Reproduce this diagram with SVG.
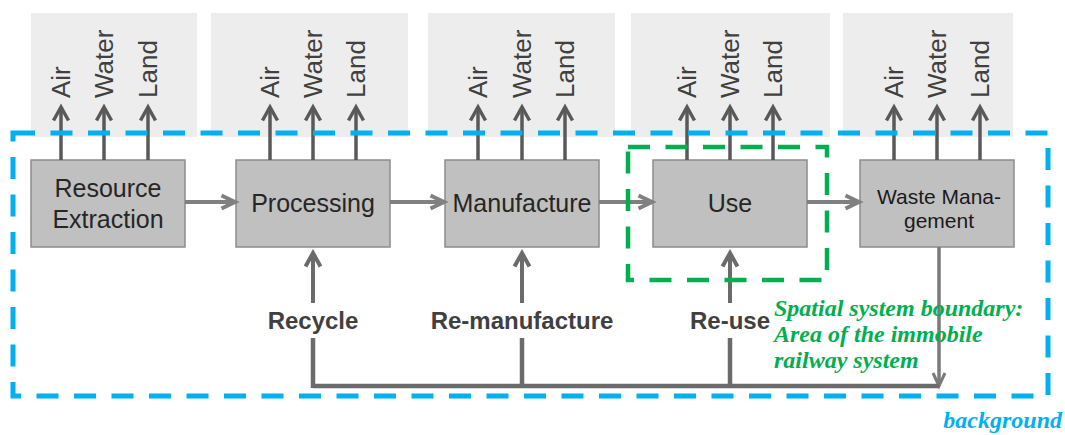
<svg xmlns="http://www.w3.org/2000/svg" width="1065" height="435" viewBox="0 0 1065 435">
  <style>
    .panel { fill: #ededed; }
    .box { fill: #c0c0c0; stroke: #8c8c8c; stroke-width: 1.5; }
    .boxtxt { font-family: "Liberation Sans", Arial, sans-serif; font-size: 25px; fill: #262626; text-anchor: middle; }
    .boxtxt-sm { font-family: "Liberation Sans", Arial, sans-serif; font-size: 21px; fill: #1a1a1a; text-anchor: middle; }
    .emit { font-family: "Liberation Sans", Arial, sans-serif; font-size: 26px; fill: #404040; }
    .emit-arrow { stroke: #595959; stroke-width: 3.5; fill: none; marker-end: url(#chev-dark); }
    .flow { stroke: #808080; stroke-width: 4; fill: none; marker-end: url(#chev-mid); }
    .loop { stroke: #6b6b6b; stroke-width: 4.5; fill: none; }
    .loop-arrow { stroke: #6b6b6b; stroke-width: 4; fill: none; marker-end: url(#chev-loop); }
    .down { stroke: #7a7a7a; stroke-width: 3.5; fill: none; marker-end: url(#chev-down); }
    .looptxt { font-family: "Liberation Sans", Arial, sans-serif; font-size: 24px; font-weight: bold; fill: #404040; text-anchor: middle; }
    .note { font-family: "Liberation Serif", "Times New Roman", serif; font-size: 24px; font-weight: bold; font-style: italic; }
    .outer { fill: none; stroke: #00b0f0; stroke-width: 5; stroke-dasharray: 22 15.5; }
    .inner { fill: none; stroke: #00b050; stroke-width: 4.5; stroke-dasharray: 22 15.5; }
  </style>
  <defs>
    <marker id="chev-dark" markerUnits="userSpaceOnUse" viewBox="0 0 18 18" markerWidth="18" markerHeight="18" refX="15" refY="9" orient="auto" overflow="visible">
      <path d="M1.5,1.5 L15,9 L1.5,16.5" fill="none" stroke="#595959" stroke-width="3.5"/>
    </marker>
    <marker id="chev-mid" markerUnits="userSpaceOnUse" viewBox="0 0 18 18" markerWidth="18" markerHeight="18" refX="15" refY="9" orient="auto" overflow="visible">
      <path d="M1.5,2.5 L15,9 L1.5,15.5" fill="none" stroke="#808080" stroke-width="4"/>
    </marker>
    <marker id="chev-loop" markerUnits="userSpaceOnUse" viewBox="0 0 18 18" markerWidth="18" markerHeight="18" refX="15" refY="9" orient="auto" overflow="visible">
      <path d="M1.5,1.5 L15,9 L1.5,16.5" fill="none" stroke="#6b6b6b" stroke-width="4"/>
    </marker>
    <marker id="chev-down" markerUnits="userSpaceOnUse" viewBox="0 0 18 18" markerWidth="18" markerHeight="18" refX="15" refY="9" orient="auto" overflow="visible">
      <path d="M2,3 L15,9 L2,15" fill="none" stroke="#7a7a7a" stroke-width="3"/>
    </marker>
  </defs>

  <rect width="1065" height="435" fill="#ffffff"/>

  <!-- environmental compartments above each stage -->
  <g id="panels">
    <rect id="panel-extraction" class="panel" x="31" y="13" width="166" height="124"/>
    <rect id="panel-processing" class="panel" x="211" y="13" width="197" height="124"/>
    <rect id="panel-manufacture" class="panel" x="428" y="13" width="187" height="124"/>
    <rect id="panel-use" class="panel" x="631" y="13" width="199" height="124"/>
    <rect id="panel-waste" class="panel" x="843" y="13" width="170" height="124"/>
  </g>

  <!-- emission labels -->
  <g id="emission-labels" class="emit">
    <text transform="translate(70,98) rotate(-90)">Air</text>
    <text transform="translate(113,98) rotate(-90)">Water</text>
    <text transform="translate(157,98) rotate(-90)">Land</text>
    <text transform="translate(279,98) rotate(-90)">Air</text>
    <text transform="translate(322,98) rotate(-90)">Water</text>
    <text transform="translate(365,98) rotate(-90)">Land</text>
    <text transform="translate(487,98) rotate(-90)">Air</text>
    <text transform="translate(531,98) rotate(-90)">Water</text>
    <text transform="translate(574,98) rotate(-90)">Land</text>
    <text transform="translate(696,98) rotate(-90)">Air</text>
    <text transform="translate(739,98) rotate(-90)">Water</text>
    <text transform="translate(782,98) rotate(-90)">Land</text>
    <text transform="translate(903,98) rotate(-90)">Air</text>
    <text transform="translate(946,98) rotate(-90)">Water</text>
    <text transform="translate(989,98) rotate(-90)">Land</text>
  </g>

  <!-- life-cycle stages -->
  <g id="node-extraction">
    <rect class="box" x="31" y="160" width="154" height="87"/>
    <text class="boxtxt" x="108" y="197">Resource</text>
    <text class="boxtxt" x="108" y="228">Extraction</text>
  </g>
  <g id="node-processing">
    <rect class="box" x="236" y="160" width="154" height="87"/>
    <text class="boxtxt" x="313" y="212">Processing</text>
  </g>
  <g id="node-manufacture">
    <rect class="box" x="445" y="160" width="154" height="87"/>
    <text class="boxtxt" x="522" y="212">Manufacture</text>
  </g>
  <g id="node-use">
    <rect class="box" x="653" y="160" width="154" height="87"/>
    <text class="boxtxt" x="730" y="212">Use</text>
  </g>
  <g id="node-waste">
    <rect class="box" x="860" y="160" width="154" height="87"/>
    <text class="boxtxt-sm" x="939" y="204">Waste Mana-</text>
    <text class="boxtxt-sm" x="939" y="228">gement</text>
  </g>

  <g id="connectors">
    <!-- emissions to air, water, land -->
    <path class="emit-arrow" d="M61,160 V107"/>
    <path class="emit-arrow" d="M104,160 V107"/>
    <path class="emit-arrow" d="M148,160 V107"/>
    <path class="emit-arrow" d="M270,160 V107"/>
    <path class="emit-arrow" d="M313,160 V107"/>
    <path class="emit-arrow" d="M356,160 V107"/>
    <path class="emit-arrow" d="M478,160 V107"/>
    <path class="emit-arrow" d="M522,160 V107"/>
    <path class="emit-arrow" d="M565,160 V107"/>
    <path class="emit-arrow" d="M687,160 V107"/>
    <path class="emit-arrow" d="M730,160 V107"/>
    <path class="emit-arrow" d="M773,160 V107"/>
    <path class="emit-arrow" d="M894,160 V107"/>
    <path class="emit-arrow" d="M937,160 V107"/>
    <path class="emit-arrow" d="M980,160 V107"/>

    <!-- main material flow -->
    <path class="flow" d="M185,202 H235"/>
    <path class="flow" d="M390,202 H444"/>
    <path class="flow" d="M599,202 H652"/>
    <path class="flow" d="M807,202 H859"/>

    <!-- return loops -->
    <path class="down" d="M939,247 V386"/>
    <path class="loop" d="M313,386 H939"/>
    <path class="loop" d="M313,388 V338"/>
    <path class="loop-arrow" d="M313,303 V253"/>
    <path class="loop" d="M522,386 V338"/>
    <path class="loop-arrow" d="M522,303 V253"/>
    <path class="loop" d="M730,386 V338"/>
    <path class="loop-arrow" d="M730,303 V253"/>
  </g>

  <g id="loop-labels" class="looptxt">
    <text x="313" y="329">Recycle</text>
    <text x="522" y="329">Re-manufacture</text>
    <text x="730" y="329">Re-use</text>
  </g>

  <!-- system boundaries -->
  <g id="boundaries">
    <rect class="outer" x="13" y="133" width="1035" height="263"/>
    <rect class="inner" x="628" y="147" width="199" height="133"/>
  </g>

  <g id="boundary-notes" class="note">
    <text fill="#00b050" x="774" y="316">Spatial system boundary:</text>
    <text fill="#00b050" x="774" y="342">Area of the immobile</text>
    <text fill="#00b050" x="774" y="368">railway system</text>
    <text fill="#00b0f0" x="1062" y="428" text-anchor="end">background</text>
  </g>
</svg>
